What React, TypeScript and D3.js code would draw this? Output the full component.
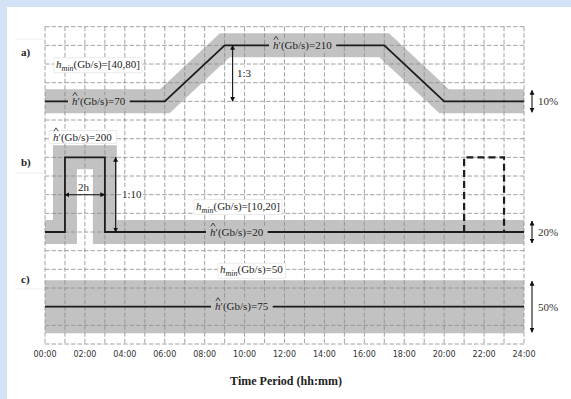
import { useLayoutEffect, useRef, useState } from "react";
import * as d3 from "d3";

const width = 571;
const height = 399;

// time axis
const tickHours = [0, 2, 4, 6, 8, 10, 12, 14, 16, 18, 20, 22, 24];
const tickLabels = ["00:00", "02:00", "04:00", "06:00", "08:00", "10:00", "12:00", "14:00", "16:00", "18:00", "20:00", "22:00", "24:00"];
const gridHours = d3.range(0, 25);
const gridRows = d3.range(0, 18);

// panel a) trapezoid
const aHours = [0, 6, 9, 17, 20, 24];
const aValues = [70, 70, 210, 210, 70, 70];
// panel b) pulse
const bHours = [0, 1, 1, 3, 3, 24];
const bValues = [20, 20, 200, 200, 20, 20];
const bDashHours = [21, 21, 23, 23];
const bDashValues = [20, 200, 200, 20];
// panel c) flat
const cHours = [0, 24];
const cValues = [75, 75];

const panelNames = ["a)", "b)", "c)"];
const percentLabels = ["10%", "20%", "50%"];

const x = d3.scaleLinear().domain([0, 24]).range([45, 524]);
const row = d3.scaleLinear().domain([0, 17]).range([26.7, 344]);
const yA = d3.scaleLinear().domain([70, 210]).range([row(4), row(1)]);
const yB = d3.scaleLinear().domain([20, 200]).range([row(11), row(7)]);
const yC = d3.scaleLinear().domain([50, 100]).range([row(15) + 26.5, row(15) - 26.5]);

const bandColor = "#c2c2c2";
const serif = "'Liberation Serif', 'Times New Roman', serif";

const path = (xs: number[], vs: number[], y: d3.ScaleLinear<number, number>) =>
  d3.line<number>().x((h) => x(h)).y((_, i) => y(vs[i]))(xs) ?? "";

function Boxed({ x, y, fill, stroke, pad = 2, size = 11, children }: any) {
  const ref = useRef<SVGTextElement>(null);
  const [box, setBox] = useState<any>(null);
  useLayoutEffect(() => {
    if (ref.current) {
      const b = ref.current.getBBox();
      setBox({ x: b.x, y: b.y, width: b.width, height: b.height });
    }
  }, []);
  return (
    <g>
      {box && (
        <rect
          x={box.x - pad}
          y={box.y}
          width={box.width + 2 * pad}
          height={box.height}
          fill={fill}
          stroke={stroke}
          strokeWidth={0.6}
        />
      )}
      <text ref={ref} x={x} y={y + 3.8} fontFamily={serif} fontSize={size} fill="#222">
        {children}
      </text>
    </g>
  );
}

function HatLabel({ x, y, value, fill, stroke }: any) {
  return (
    <g>
      <Boxed x={x} y={y} fill={fill} stroke={stroke} pad={4}>
        <tspan fontStyle="italic">h</tspan>
        <tspan>′(Gb/s)={value}</tspan>
      </Boxed>
      {/* circumflex over the h */}
      <path
        d={`M${x + 0.8},${y - 5.6} L${x + 3},${y - 9} L${x + 5.2},${y - 5.6}`}
        fill="none"
        stroke="#222"
        strokeWidth={0.8}
      />
    </g>
  );
}

function MinLabel({ x, y, value, fill = "#fff", stroke = "#ddd" }: any) {
  return (
    <Boxed x={x} y={y} fill={fill} stroke={stroke} pad={2}>
      <tspan fontStyle="italic">h</tspan>
      <tspan fontStyle="italic" fontSize={8} dy={3}>min</tspan>
      <tspan dy={-3}>(Gb/s)={value}</tspan>
    </Boxed>
  );
}

function VArrow({ x, y1, y2 }: any) {
  return <line x1={x} x2={x} y1={y1} y2={y2} stroke="#111" strokeWidth={1.1} markerStart="url(#ah)" markerEnd="url(#ah)" />;
}

export default function App() {
  const bandY = [yA(70), yB(20), yC(75)];
  const bandHalf = [12, 12, 26.5];
  return (
    <svg width={width} height={height} style={{ position: "absolute", left: 0, top: 0 }}>
      <defs>
        <marker id="ah" viewBox="0 0 10 10" refX="9" refY="5" markerWidth="5" markerHeight="5" orient="auto-start-reverse" markerUnits="userSpaceOnUse">
          <path d="M0,0 L10,5 L0,10 z" fill="#111" />
        </marker>
      </defs>
      <rect width={width} height={height} fill="#d3e2f4" />
      <rect x={7} y={7} width={width - 7} height={height - 7} fill="#fff" />

      {/* bands */}
      <g fill="none" stroke={bandColor} strokeLinejoin="miter" strokeMiterlimit={10}>
        <path d={path(aHours, aValues, yA)} strokeWidth={24} />
        <path d={path(bHours, bValues, yB)} strokeWidth={24} />
        <path d={path(cHours, cValues, yC)} strokeWidth={53} />
      </g>

      {/* grid */}
      <g stroke="#8c8c8c" strokeWidth={0.8} strokeDasharray="4.5 2">
        {gridRows.map((r) => (
          <line key={"r" + r} x1={x(0)} x2={x(24)} y1={row(r)} y2={row(r)} />
        ))}
        {gridHours.map((h) => (
          <line key={"h" + h} x1={x(h)} x2={x(h)} y1={row(0)} y2={row(17)} />
        ))}
      </g>

      {/* data lines */}
      <g fill="none" stroke="#1c1c1c" strokeWidth={1.8}>
        <path d={path(aHours, aValues, yA)} />
        <path d={path(bHours, bValues, yB)} />
        <path d={path(cHours, cValues, yC)} />
        <path d={path(bDashHours, bDashValues, yB)} strokeWidth={2.2} strokeDasharray="7 4" />
      </g>

      {/* annotations */}
      <MinLabel x={56} y={row(2)} value="[40,80]" />
      <HatLabel x={72} y={yA(70)} value={70} fill={bandColor} />
      <HatLabel x={273} y={yA(210)} value={210} fill={bandColor} />
      <VArrow x={x(9.4)} y1={yA(210)} y2={yA(70)} />
      <Boxed x={237} y={row(2.5)} fill="#fff" pad={1}>1:3</Boxed>

      <HatLabel x={53} y={row(5.9)} value={200} fill="#fff" stroke="#ddd" />
      <line x1={x(1)} x2={x(3)} y1={row(9)} y2={row(9)} stroke="#111" strokeWidth={1.1} markerStart="url(#ah)" markerEnd="url(#ah)" />
      <Boxed x={78} y={row(8.6)} fill="#fff" pad={1}>2h</Boxed>
      <VArrow x={x(3.54)} y1={yB(200)} y2={yB(20)} />
      <Boxed x={122} y={row(9)} fill="#fff" pad={1}>1:10</Boxed>
      <MinLabel x={196} y={row(9.6)} value="[10,20]" />
      <HatLabel x={210} y={yB(20)} value={20} fill={bandColor} />

      <MinLabel x={220} y={row(13)} value="50" />
      <HatLabel x={215} y={yC(75)} value={75} fill={bandColor} />

      {/* tolerance arrows */}
      {percentLabels.map((p, i) => (
        <g key={p}>
          <VArrow x={532} y1={bandY[i] - bandHalf[i] + 1} y2={bandY[i] + bandHalf[i] - 1} />
          <text x={538} y={bandY[i] + 4} fontFamily={serif} fontSize={11} fill="#333">
            {p}
          </text>
        </g>
      ))}

      {/* panel names */}
      {panelNames.map((n, i) => (
        <g key={n}>
          <line x1={16} x2={43} y1={[39, 173, 289][i]} y2={[39, 173, 289][i]} stroke="#eee" />
          <text x={21} y={[56, 166, 283][i]} fontFamily={serif} fontWeight="bold" fontSize={11} fill="#222">
            {n}
          </text>
        </g>
      ))}

      {/* x axis labels */}
      {tickHours.map((h, i) => (
        <text key={h} x={x(h)} y={357} textAnchor="middle" fontFamily="'DejaVu Sans', sans-serif" fontSize={8} fill="#333">
          {tickLabels[i]}
        </text>
      ))}
      <text x={286} y={385} textAnchor="middle" fontFamily={serif} fontWeight="bold" fontSize={12} fill="#222">
        Time Period (hh:mm)
      </text>
    </svg>
  );
}
